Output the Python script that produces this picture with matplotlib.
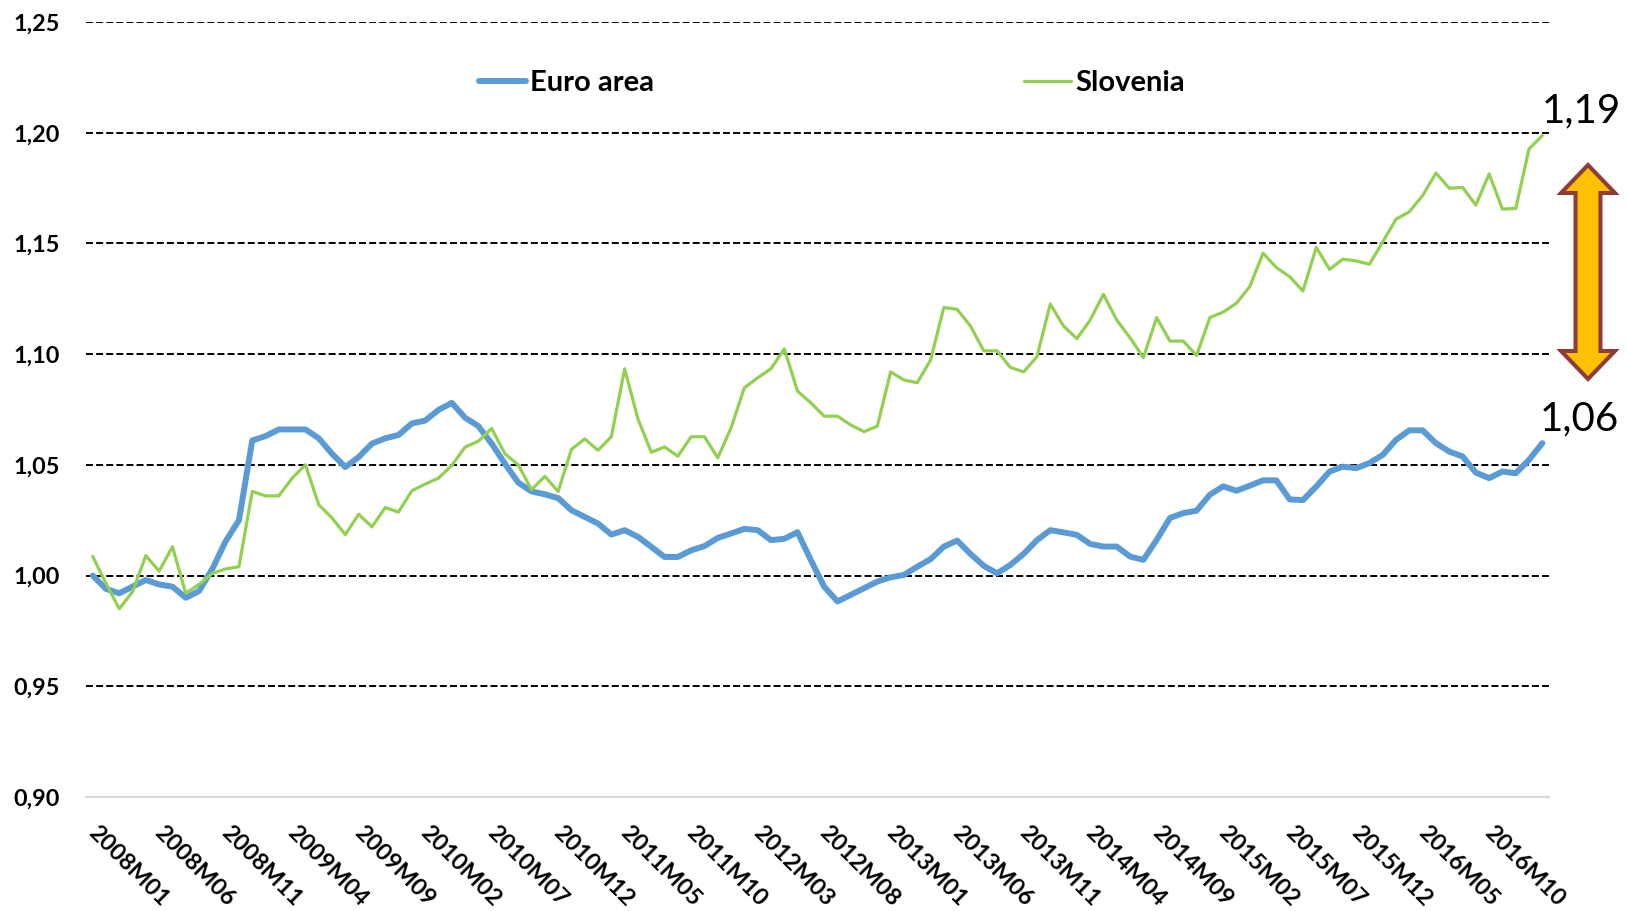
import matplotlib
matplotlib.use("Agg")
import matplotlib.pyplot as plt
import matplotlib.patches as mpatches
import matplotlib.transforms as mtransforms

# ---------------- data ----------------
years = list(range(2008, 2018))
categories = [f"{y}M{m:02d}" for y in years for m in range(1, 13)][:110]  # 2008M01 .. 2017M02

euro_area = [
    1.000, 0.994, 0.992, 0.995, 0.998, 0.996, 0.995, 0.990, 0.993, 1.003,
    1.0155, 1.025, 1.061, 1.063, 1.066, 1.066, 1.066, 1.062, 1.055, 1.049,
    1.0535, 1.0596, 1.062, 1.0635, 1.0687, 1.070, 1.0748, 1.078, 1.0713, 1.0675,
    1.0596, 1.0505, 1.042, 1.038, 1.0367, 1.035, 1.0295, 1.0265, 1.0235, 1.0185,
    1.0205, 1.0175, 1.013, 1.0084, 1.0084, 1.0114, 1.0133, 1.017, 1.019, 1.0211,
    1.0205, 1.016, 1.0166, 1.0196, 1.007, 0.995, 0.9883, 0.9913, 0.9943, 0.9973,
    0.9992, 1.0003, 1.004, 1.0074, 1.0131, 1.0158, 1.0098, 1.0044, 1.001, 1.0048,
    1.0098, 1.016, 1.0205, 1.0195, 1.0184, 1.0143, 1.0131, 1.0131, 1.0086, 1.0071,
    1.0161, 1.026, 1.0282, 1.0293, 1.0365, 1.0403, 1.0383, 1.0406, 1.043, 1.043,
    1.0344, 1.0341, 1.0402, 1.047, 1.0492, 1.0485, 1.0508, 1.0545, 1.0613, 1.0656,
    1.0656, 1.0598, 1.056, 1.0538, 1.0465, 1.044, 1.047, 1.0462, 1.0523, 1.0598,
]

slovenia = [
    1.0087, 0.9965, 0.985, 0.9927, 1.009, 1.002, 1.013, 0.992, 0.996, 1.001,
    1.003, 1.004, 1.038, 1.036, 1.036, 1.044, 1.050, 1.032, 1.026, 1.0185,
    1.0277, 1.022, 1.0307, 1.0287, 1.0383, 1.0413, 1.044, 1.0497, 1.058, 1.0607,
    1.0664, 1.055, 1.050, 1.0388, 1.0448, 1.038, 1.057, 1.0617, 1.0566, 1.0627,
    1.0934, 1.0708, 1.0557, 1.0581, 1.0539, 1.0627, 1.0627, 1.0532, 1.0667, 1.0848,
    1.0893, 1.0934, 1.1024, 1.0833, 1.078, 1.072, 1.072, 1.068, 1.065, 1.0675,
    1.092, 1.0883, 1.0871, 1.0973, 1.1211, 1.1202, 1.1127, 1.1015, 1.1015, 1.094,
    1.092, 1.0988, 1.1226, 1.1127, 1.107, 1.1154, 1.127, 1.1154, 1.1074, 1.0984,
    1.1165, 1.1059, 1.1059, 1.0994, 1.1165, 1.119, 1.123, 1.1305, 1.1456, 1.1391,
    1.1350, 1.1285, 1.1482, 1.1383, 1.1429, 1.1421, 1.1406, 1.1507, 1.161, 1.1643,
    1.1716, 1.1818, 1.1749, 1.1753, 1.1673, 1.1814, 1.1655, 1.1658, 1.1927, 1.1987,
]

series_names = ["Euro area", "Slovenia"]
y_ticks = [0.90, 0.95, 1.00, 1.05, 1.10, 1.15, 1.20, 1.25]
y_tick_labels = ["0,90", "0,95", "1,00", "1,05", "1,10", "1,15", "1,20", "1,25"]
tick_step = 5
end_labels = ["1,19", "1,06"]

# ---------------- figure ----------------
W, H = 1627, 911
fig = plt.figure(figsize=(W / 100, H / 100), dpi=100)
ax = fig.add_axes([86 / W, 1 - 797 / H, (1549 - 86) / W, (797 - 22) / H])

FONT = "Lato"
BLUE = "#5B9BD5"
GREEN = "#92D050"

x = list(range(len(categories)))

# gridlines
for yv in y_ticks[1:]:
    ax.axhline(yv, color="black", lw=1.4, linestyle=(0, (3.6, 1.6)), zorder=1)

ax.plot(x, euro_area, color=BLUE, lw=4.3, solid_joinstyle="round",
        solid_capstyle="round", zorder=3, label=series_names[0])
ax.plot(x, slovenia, color=GREEN, lw=2.3, solid_joinstyle="round",
        solid_capstyle="round", zorder=4, label=series_names[1])

ax.set_xlim(-0.5, len(categories) - 0.5)
ax.set_ylim(0.90, 1.25)

ax.set_yticks(y_ticks)
ax.set_yticklabels(y_tick_labels, fontfamily=FONT, fontweight="bold", fontsize=16.8)
ax.tick_params(axis="y", length=0, pad=19)

ax.set_xticks(x[::tick_step])
ax.set_xticklabels(categories[::tick_step], rotation=-45, ha="left", va="top",
                   rotation_mode="anchor", fontfamily=FONT, fontweight="bold",
                   fontsize=16.8)
ax.tick_params(axis="x", length=0, pad=18)
offset = mtransforms.ScaledTranslation(6 / 100, 0, fig.dpi_scale_trans)
for lbl in ax.get_xticklabels():
    lbl.set_transform(lbl.get_transform() + offset)

for s in ["top", "right", "left"]:
    ax.spines[s].set_visible(False)
ax.spines["bottom"].set_color("#D9D9D9")
ax.spines["bottom"].set_linewidth(1.6)

# legend
leg = ax.legend(loc="center left", bbox_to_anchor=(479 / W, 1 - 83 / H),
                bbox_transform=fig.transFigure, ncol=2, frameon=False,
                prop={"family": FONT, "weight": "bold", "size": 21},
                handlelength=1.6, handletextpad=0.14, columnspacing=12.7,
                borderpad=0, borderaxespad=0)

# end value labels
fig.text(1542 / W, 1 - 122 / H, end_labels[0], fontfamily=FONT, fontsize=29,
         ha="left", va="baseline")
fig.text(1540 / W, 1 - 430 / H, end_labels[1], fontfamily=FONT, fontsize=29,
         ha="left", va="baseline")

# double-headed block arrow (figure pixel coords)
cx, top, bot = 1588, 165, 379
hw, sw, hl = 27, 12.5, 28
pts_px = [
    (cx, top), (cx + hw, top + hl), (cx + sw, top + hl), (cx + sw, bot - hl),
    (cx + hw, bot - hl), (cx, bot), (cx - hw, bot - hl), (cx - sw, bot - hl),
    (cx - sw, top + hl), (cx - hw, top + hl),
]
pts = [(px / W, 1 - py / H) for px, py in pts_px]
arrow = mpatches.Polygon(pts, closed=True, facecolor="#FFC000", edgecolor="#8E3B3B",
                         lw=2.9, joinstyle="miter", transform=fig.transFigure)
fig.patches.append(arrow)

fig.savefig("out.png", dpi=100, facecolor="white")
